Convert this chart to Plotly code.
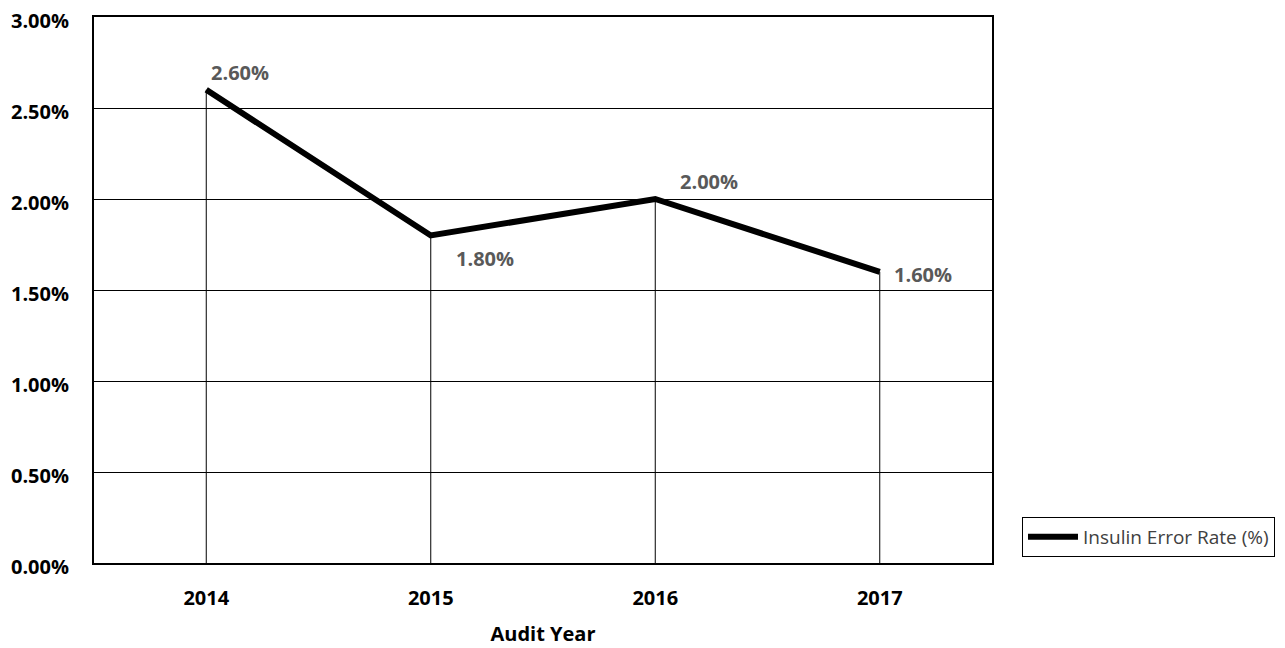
import plotly.graph_objects as go

years = ["2014", "2015", "2016", "2017"]
error_rate = [0.026, 0.018, 0.020, 0.016]
label_text = ["2.60%", "1.80%", "2.00%", "1.60%"]
label_pos = [("left", "bottom", 3, 2), ("left", "top", 23, -8), ("left", "bottom", 23, 2), ("left", "middle", 12, -3)]

fig = go.Figure()

# drop lines
dx, dy = [], []
for yr, v in zip(years, error_rate):
    dx += [yr, yr, None]
    dy += [0, v, None]
fig.add_trace(go.Scatter(x=dx, y=dy, mode="lines", line=dict(color="#000000", width=1),
                         showlegend=False, hoverinfo="skip"))

fig.add_trace(go.Scatter(x=years, y=error_rate, mode="lines", name="Insulin Error Rate (%)",
                         line=dict(color="#000000", width=6)))

for i, (v, t, (xa, ya, xs, ys)) in enumerate(zip(error_rate, label_text, label_pos)):
    fig.add_annotation(x=i, y=v, xref="x", yref="y", text=t, showarrow=False,
                       xanchor=xa, yanchor=ya, xshift=xs, yshift=ys,
                       font=dict(family="Open Sans", size=20, color="#595959", weight="bold"))

fig.update_layout(
    width=1277, height=640,
    margin=dict(l=86, r=293, t=9, b=85, autoexpand=False),
    paper_bgcolor="white", plot_bgcolor="white",
    font=dict(family="Open Sans", color="#000000"),
    legend=dict(x=1.0334, y=0.048, xanchor="left", yanchor="middle",
                bordercolor="#000000", borderwidth=1, bgcolor="white",
                font=dict(family="Open Sans", size=19, color="#404040"),
                itemwidth=50, tracegroupgap=0),
    xaxis=dict(type="category", range=[-0.5, 3.5], showgrid=False, automargin=False,
               showline=True, linecolor="#000000", linewidth=2, mirror=True,
               ticks="", ticklabelstandoff=16,
               tickfont=dict(size=20, color="#000000", weight="bold"),
               title=dict(text="Audit Year", font=dict(size=20, weight="bold"), standoff=17)),
    yaxis=dict(range=[0, 0.03], dtick=0.005, tickformat=".2%", automargin=False,
               showgrid=True, gridcolor="#000000", gridwidth=1,
               showline=True, linecolor="#000000", linewidth=2, mirror=True,
               ticks="", ticklabelstandoff=19, ticklabeloverflow="allow", ticklabelshift=4,
               tickfont=dict(size=20, color="#000000", weight="bold"), zeroline=False),
)

fig.write_html("out.html")
